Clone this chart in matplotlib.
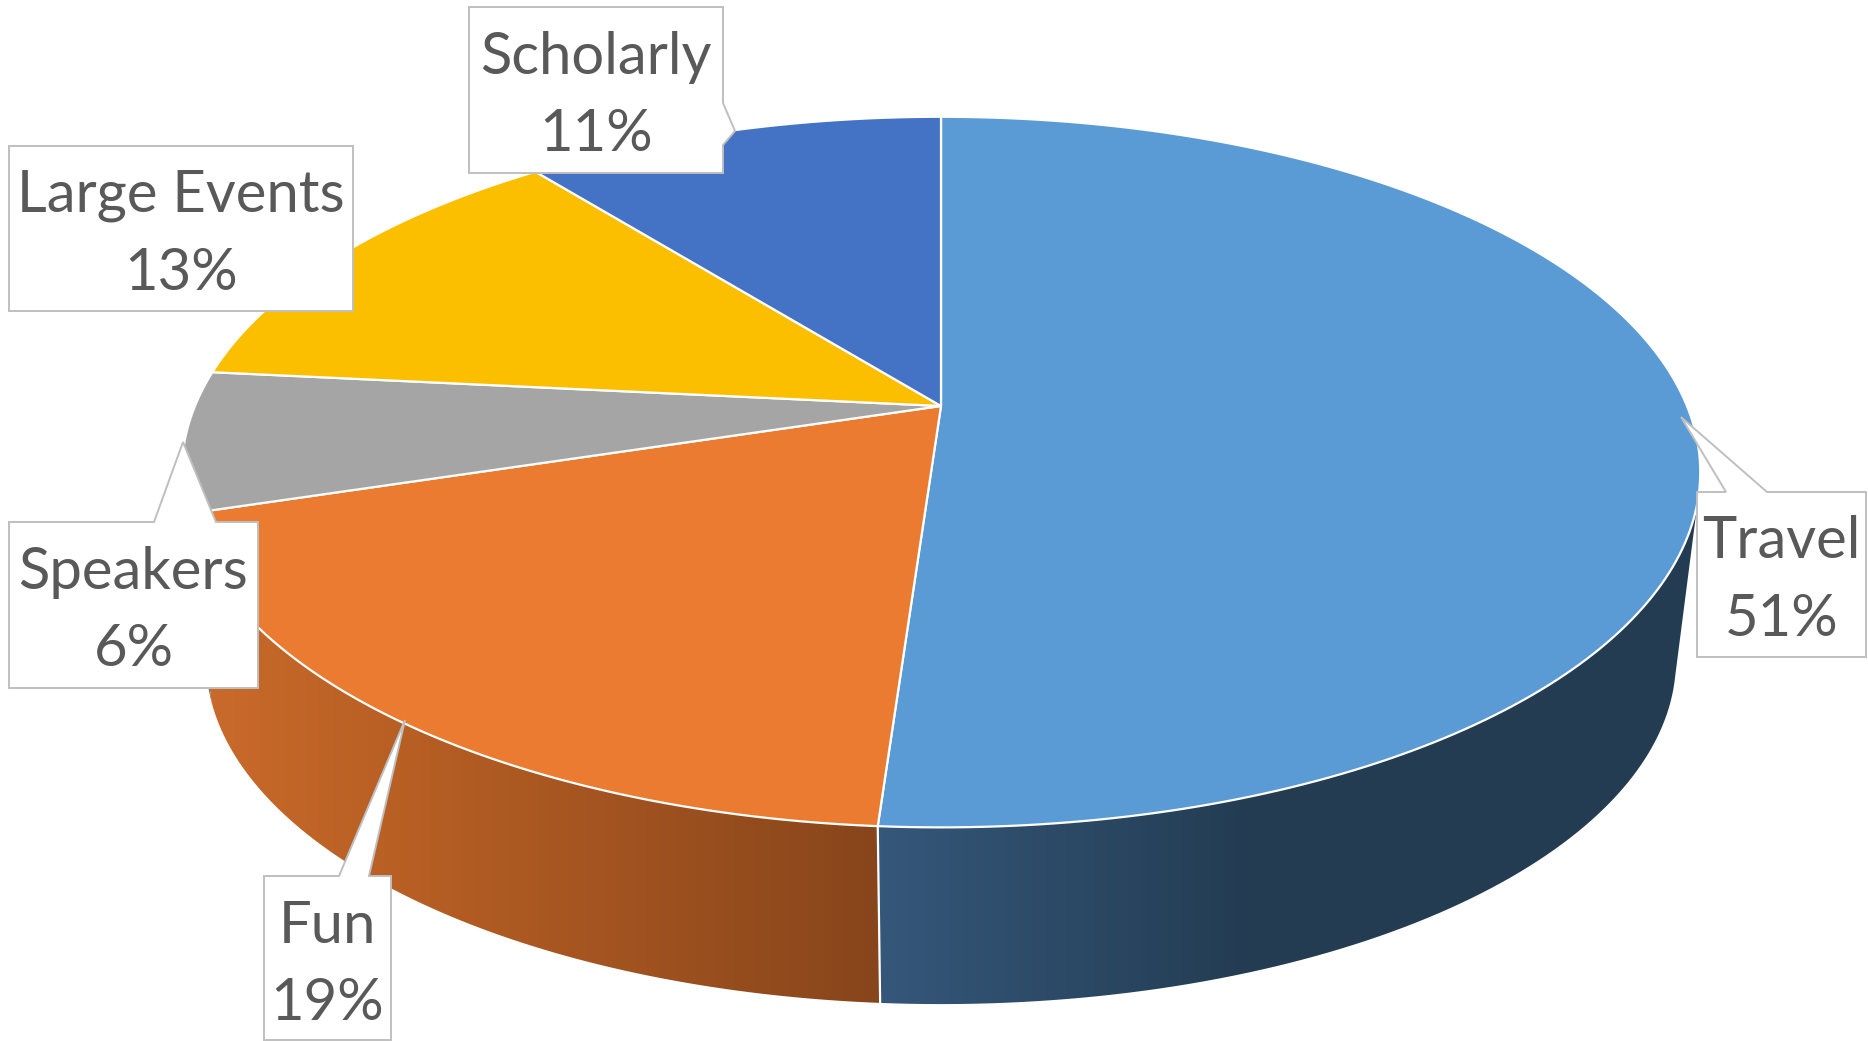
import numpy as np
import matplotlib
matplotlib.use("Agg")
import matplotlib.pyplot as plt
from matplotlib.patches import Polygon

# data
names = ["Travel", "Fun", "Speakers", "Large Events", "Scholarly"]
shares = [51.1, 19.1, 6.4, 12.7, 10.7]
colors = ["#5B9BD5", "#EA7B30", "#A5A5A5", "#FBBF00", "#4472C4"]

# pie seen in perspective, upper and lower rim (pixels of the 1868x1041 image)
cx = 941
top = dict(y0=406, a=746, b=343, k=0.186)
low = dict(y0=598, a=723, b=333, k=0.18)

# wall shading: screen x -> rgb
wall_stops = {
    "Travel": ([881, 1250, 1700], ["#35577A", "#233C52", "#233C52"]),
    "Fun": ([200, 400, 881], ["#C96B2B", "#B85F24", "#87451B"]),
    "Speakers": ([150, 260], ["#6E6E6E", "#6E6E6E"]),
}

# callouts: box (x0, x1, y0, y1), pointer points, side the pointer sits on
callouts = {
    "Travel": ((1697, 1866, 492, 657), "top", [(1726, 492), (1681, 417), (1767, 492)]),
    "Fun": ((264, 391, 876, 1040), "top", [(339, 876), (405, 720), (369, 876)]),
    "Speakers": ((9, 258, 522, 688), "top", [(154, 522), (183, 442), (216, 522)]),
    "Large Events": ((9, 353, 146, 311), "top", []),
    "Scholarly": ((469, 723, 7, 173), "right", [(723, 103), (735, 131), (723, 145)]),
}
text_y = {"Fun": 965}
text_shift = 6
font_px = 58


def rim(theta, p):
    u = np.sin(np.radians(theta))
    v = np.cos(np.radians(theta))
    d = 1 + p["k"] * v
    return cx + p["a"] * u / d, p["y0"] - p["b"] * v / d


def hex_rgb(c):
    return [int(c[i:i + 2], 16) / 255 for i in (1, 3, 5)]


fig = plt.figure(figsize=(18.68, 10.41), dpi=100)
ax = fig.add_axes([0, 0, 1, 1])

edges = np.concatenate([[0], np.cumsum(shares)]) * 3.6

# walls first, only the part facing us
for i, name in enumerate(names):
    if name not in wall_stops:
        continue
    a = max(edges[i], 103)
    b = min(edges[i + 1], 262)
    th = np.linspace(a, b, 80)
    xt, yt = rim(th, top)
    xl, yl = rim(th, low)
    pts = np.column_stack([np.r_[xt, xl[::-1]], np.r_[yt, yl[::-1]]])
    xs, cs = wall_stops[name]
    grid = np.arange(0, 1868)
    rgb = np.array([hex_rgb(c) for c in cs])
    img = np.stack([np.interp(grid, xs, rgb[:, j]) for j in range(3)], axis=1)[None, :, :]
    im = ax.imshow(img, extent=[0, 1868, 1041, 0], aspect="auto", zorder=1 + 0.1 * (5 - i))
    clip = Polygon(pts, closed=True, transform=ax.transData, fc="none", ec="none")
    ax.add_patch(clip)
    im.set_clip_path(clip)
    # white line where the wall meets the next one
    if name == "Travel":
        ax.plot([xt[-1], xl[-1]], [yt[-1], yl[-1]], color="white", lw=1.6, zorder=2)

# top faces
for i, name in enumerate(names):
    th = np.linspace(edges[i], edges[i + 1], 200)
    x, y = rim(th, top)
    pts = np.column_stack([np.r_[cx, x], np.r_[top["y0"], y]])
    ax.add_patch(Polygon(pts, closed=True, fc=colors[i], ec="white", lw=1.6, joinstyle="round", zorder=3))

# callouts
for i, name in enumerate(names):
    (x0, x1, y0, y1), side, ptr = callouts[name]
    if side == "top":
        pts = [(x0, y0)] + ptr + [(x1, y0), (x1, y1), (x0, y1)]
    else:
        pts = [(x0, y0), (x1, y0)] + ptr + [(x1, y1), (x0, y1)]
    ax.add_patch(Polygon(pts, closed=True, fc="white", ec="#BFBFBF", lw=1.4, joinstyle="miter", zorder=4))
    ax.text((x0 + x1) / 2, text_y.get(name, (y0 + y1) / 2 + text_shift), f"{name}\n{round(shares[i])}%",
            ha="center", va="center", color="#595959", family="Lato",
            fontsize=font_px * 0.72, linespacing=1.57, zorder=5)

ax.set_xlim(0, 1868)
ax.set_ylim(1041, 0)
ax.axis("off")
fig.savefig("out.png", dpi=100)
